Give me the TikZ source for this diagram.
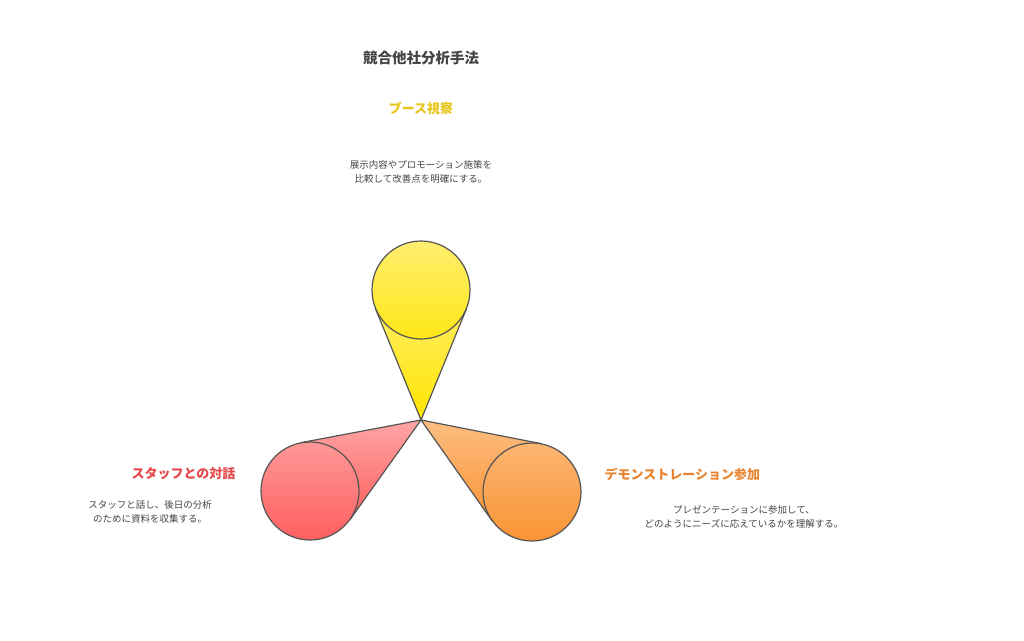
\documentclass[tikz,border=0pt]{standalone}
\usepackage{fontspec}
\setmainfont{Noto Sans CJK JP}
\usetikzlibrary{calc}
\definecolor{edge}{HTML}{555555}
\definecolor{txt}{HTML}{444444}
\definecolor{yA}{HTML}{FFEE70}
\definecolor{yB}{HTML}{FFE500}
\definecolor{rA}{HTML}{FFA5A5}
\definecolor{rB}{HTML}{FF5F5F}
\definecolor{oA}{HTML}{FDBE82}
\definecolor{oB}{HTML}{F99434}
\definecolor{tY}{HTML}{E8C51B}
\definecolor{tR}{HTML}{E5474B}
\definecolor{tO}{HTML}{E8842F}
\tikzset{x=1pt,y=-1pt,
 ball/.style={circle,minimum size=98pt,inner sep=0pt},
 cone/.style={draw=edge,line width=1.2pt,line join=round},
 ttl/.style={font=\fontsize{13}{16}\selectfont\bfseries},
 dsc/.style={font=\fontsize{9.5}{14}\selectfont,text=txt,align=center}}
\begin{document}
\begin{tikzpicture}
\useasboundingbox (0,0) rectangle (1024,640);
\coordinate (a) at (421,420);
\node[ball] (t) at (421,290) {};
\node[ball] (l) at (310,491) {};
\node[ball] (r) at (532,492) {};
\shade[cone,top color=yA,bottom color=yB]
  (a) -- (tangent cs:node=t,point={(a)},solution=1) -- (t.center) -- (tangent cs:node=t,point={(a)},solution=2) -- cycle;
\shade[cone,top color=rA,bottom color=rB]
  (a) -- (tangent cs:node=l,point={(a)},solution=1) -- (l.center) -- (tangent cs:node=l,point={(a)},solution=2) -- cycle;
\shade[cone,top color=oA,bottom color=oB]
  (a) -- (tangent cs:node=r,point={(a)},solution=1) -- (r.center) -- (tangent cs:node=r,point={(a)},solution=2) -- cycle;
\shade[top color=yA,bottom color=yB!80!yA,draw=edge,line width=1.2pt] (t.center) circle (49);
\shade[top color=rA!80!rB,bottom color=rB,draw=edge,line width=1.2pt] (l.center) circle (49);
\shade[top color=oA!80!oB,bottom color=oB,draw=edge,line width=1.2pt] (r.center) circle (49);
\node[text=txt,font=\fontsize{14.5}{17}\selectfont\bfseries] (title) at (421,58) {競合他社分析手法};
\node[ttl,text=tY] (tl) at (421,108) {ブース視察};
\node[dsc] (td) at (421,172) {展示内容やプロモーション施策を\\比較して改善点を明確にする。};
\node[ttl,text=tR,anchor=east] (ll) at (239,474) {スタッフとの対話};
\node[dsc] (ld) at (150,512) {スタッフと話し、後日の分析\\のために資料を収集する。};
\node[ttl,text=tO,anchor=west] (rl) at (601,474) {デモンストレーション参加};
\node[dsc] (rd) at (744,517) {プレゼンテーションに参加して、\\どのようにニーズに応えているかを理解する。};
\end{tikzpicture}
\end{document}
